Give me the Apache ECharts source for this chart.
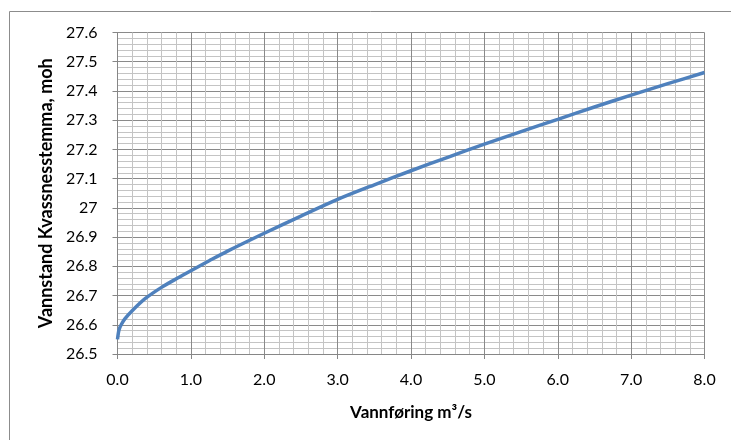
<!DOCTYPE html>
<html>
<head>
<meta charset="utf-8">
<script src="https://cdn.jsdelivr.net/npm/echarts@6/dist/echarts.min.js"></script>
<style>html,body{margin:0;padding:0;background:#fff}#c{width:731px;height:440px}</style>
</head>
<body>
<div id="c"></div>
<script>
const flow = [0, 0.02, 0.05, 0.1, 0.2, 0.38, 0.6, 0.82, 1.0, 1.25, 1.5, 2, 2.5, 3, 3.5, 4, 4.5, 5, 5.5, 6, 6.5, 7, 7.5, 8];
const level = [26.550, 26.582, 26.600, 26.620, 26.648, 26.690, 26.728, 26.760, 26.785, 26.819, 26.852, 26.913, 26.972, 27.029, 27.079, 27.127, 27.173, 27.218, 27.261, 27.303, 27.345, 27.386, 27.425, 27.463];
const xName = 'Vannføring m³/s';
const yName = 'Vannstand Kvassnesstemma, moh';

const chart = echarts.init(document.getElementById('c'));
const font = 'Lato, "Open Sans", sans-serif';
chart.setOption({
  animation: false,
  graphic: [{
    type: 'rect', left: 7, top: 9, shape: {width: 760, height: 460},
    style: {fill: 'none', stroke: '#8c8c8c', lineWidth: 1}, silent: true
  }],
  grid: {left: 117.5, right: 26.5, top: 32.5, bottom: 86},
  xAxis: {
    type: 'value', min: 0, max: 8, interval: 1,
    name: xName, nameLocation: 'middle', nameGap: 50,
    nameTextStyle: {fontFamily: font, fontSize: 17, fontWeight: 'bold', color: '#000'},
    axisLine: {show: true, lineStyle: {color: '#868686', width: 1}},
    axisTick: {show: true, length: 5, lineStyle: {color: '#868686'}},
    axisLabel: {fontFamily: font, fontSize: 16, color: '#000', margin: 18, formatter: v => v.toFixed(1)},
    splitLine: {show: true, lineStyle: {color: '#8a8a8a', width: 1}},
    minorTick: {show: false, splitNumber: 5},
    minorSplitLine: {show: true, lineStyle: {color: '#c4c4c4', width: 1}}
  },
  yAxis: {
    type: 'value', min: 26.5, max: 27.6, interval: 0.1,
    name: yName, nameLocation: 'middle', nameGap: 61,
    nameTextStyle: {fontFamily: font, fontSize: 18, fontWeight: 'bold', color: '#000'},
    axisLine: {show: true, lineStyle: {color: '#868686', width: 1}},
    axisTick: {show: true, length: 5, lineStyle: {color: '#868686'}},
    axisLabel: {fontFamily: font, fontSize: 16, color: '#000', margin: 20,
      formatter: v => { const s = (Math.round(v * 10) / 10).toFixed(1); return s.endsWith('.0') ? s.slice(0, -2) : s; }},
    splitLine: {show: true, lineStyle: {color: '#8a8a8a', width: 1}},
    minorTick: {show: false, splitNumber: 5},
    minorSplitLine: {show: true, lineStyle: {color: '#c4c4c4', width: 1}}
  },
  series: [{
    type: 'line', smooth: 0.3, showSymbol: false,
    data: flow.map((q, i) => [q, level[i]]),
    lineStyle: {color: '#4f81bd', width: 3.5},
    itemStyle: {color: '#4f81bd'}
  }]
});
</script>
</body>
</html>
